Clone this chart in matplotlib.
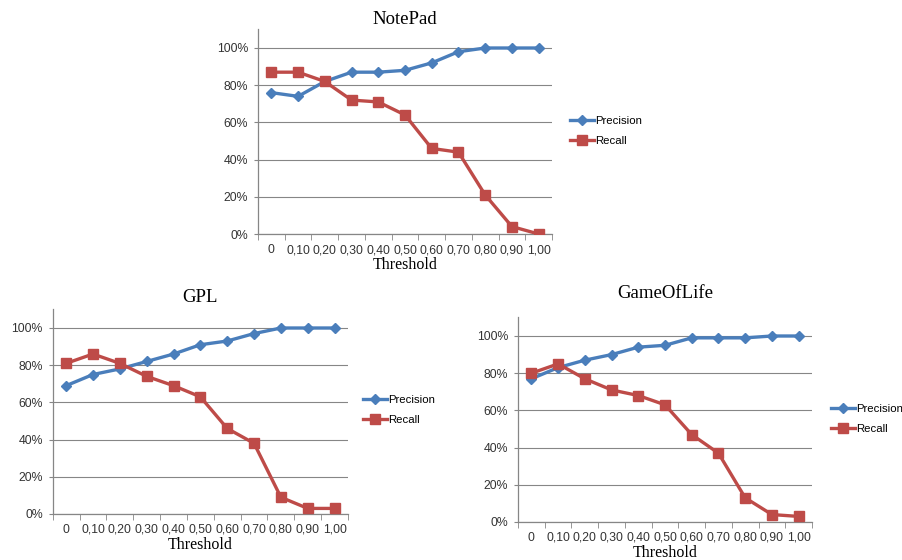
import matplotlib
matplotlib.use("Agg")
import matplotlib.pyplot as plt
from matplotlib.ticker import FixedLocator, FuncFormatter
from matplotlib.transforms import offset_copy
import numpy as np

thresholds = ["0", "0,10", "0,20", "0,30", "0,40", "0,50", "0,60", "0,70", "0,80", "0,90", "1,00"]

notepad_precision = [0.76, 0.74, 0.82, 0.87, 0.87, 0.88, 0.92, 0.98, 1.00, 1.00, 1.00]
notepad_recall = [0.87, 0.87, 0.82, 0.72, 0.71, 0.64, 0.46, 0.44, 0.21, 0.04, 0.00]

gpl_precision = [0.69, 0.75, 0.78, 0.82, 0.86, 0.91, 0.93, 0.97, 1.00, 1.00, 1.00]
gpl_recall = [0.81, 0.86, 0.81, 0.74, 0.69, 0.63, 0.46, 0.38, 0.09, 0.03, 0.03]

gol_precision = [0.77, 0.83, 0.87, 0.90, 0.94, 0.95, 0.99, 0.99, 0.99, 1.00, 1.00]
gol_recall = [0.80, 0.85, 0.77, 0.71, 0.68, 0.63, 0.47, 0.37, 0.13, 0.04, 0.03]

BLUE = "#4A7EBB"
RED = "#BE4B48"
GRID = "#868686"
SANS = "Liberation Sans"
SERIF = "Liberation Serif"

W, H = 903, 560
fig = plt.figure(figsize=(W / 100, H / 100), dpi=100)


def panel(px_left, px_right, px_zero, title, prec, rec, legend_px, title_pad):
    per = 186.0
    top = px_zero - 1.1 * per
    ax = fig.add_axes([px_left / W, 1 - px_zero / H, (px_right - px_left) / W, (px_zero - top) / H])
    x = np.arange(len(thresholds))
    ax.plot(x, prec, color=BLUE, lw=2.4, marker="D", ms=5, mec=BLUE, mfc=BLUE, label="Precision", zorder=3)
    ax.plot(x, rec, color=RED, lw=2.4, marker="s", ms=6.8, mec=RED, mfc=RED, label="Recall", zorder=3)
    ax.set_xlim(-0.5, len(thresholds) - 0.5)
    ax.set_ylim(0, 1.1)
    ax.set_yticks([0, 0.2, 0.4, 0.6, 0.8, 1.0])
    ax.yaxis.set_major_formatter(FuncFormatter(lambda v, p: f"{int(round(v * 100))}%"))
    ax.set_xticks(x)
    ax.set_xticklabels([])
    ax.xaxis.set_minor_locator(FixedLocator(np.arange(-0.5, len(thresholds), 1.0)))
    ax.tick_params(axis="x", which="major", length=0)
    ax.tick_params(axis="x", which="minor", length=4, color=GRID, direction="out")
    ax.tick_params(axis="y", which="major", length=3, color=GRID, labelsize=8.8, labelcolor="#333333", pad=4)
    for lab in ax.get_yticklabels():
        lab.set_fontfamily(SANS)
    tick_tr = offset_copy(ax.get_xaxis_transform(), fig=fig, y=-19, units="dots")
    for xi, lab in zip(x, thresholds):
        ax.text(xi, 0, lab, transform=tick_tr, ha="center", va="baseline",
                fontfamily=SANS, fontsize=8.8, color="#333333")
    xl_tr = offset_copy(ax.transAxes, fig=fig, y=-31, units="dots")
    ax.text(0.5, 0, "Threshold", transform=xl_tr, ha="center", va="center",
            fontfamily=SERIF, fontsize=11.5, color="black")
    ax.grid(axis="y", color=GRID, lw=0.8, zorder=0)
    ax.set_axisbelow(True)
    for s in ["top", "right"]:
        ax.spines[s].set_visible(False)
    for s in ["left", "bottom"]:
        ax.spines[s].set_color(GRID)
        ax.spines[s].set_linewidth(0.9)
    ax.set_title(title, fontfamily=SERIF, fontsize=13.5, pad=title_pad)
    fig.legend(*ax.get_legend_handles_labels(), loc="center left",
               bbox_to_anchor=(legend_px[0] / W, 1 - legend_px[1] / H),
               frameon=False, prop={"family": SANS, "size": 8.2},
               handlelength=2.1, handletextpad=0.1, labelspacing=0.85, borderpad=0, borderaxespad=0)
    return ax


panel(258, 552, 234, "NotePad", notepad_precision, notepad_recall, (570, 131), 4)
panel(52.7, 348, 514, "GPL", gpl_precision, gpl_recall, (363, 410), 5)
panel(518, 812, 522, "GameOfLife", gol_precision, gol_recall, (831, 419), 14)

fig.savefig("out.png", dpi=100)
